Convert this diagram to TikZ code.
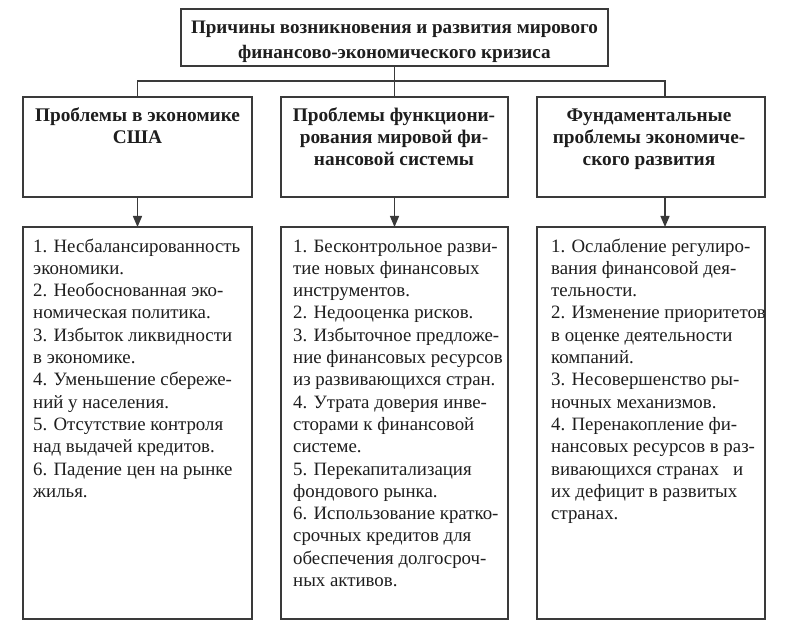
\documentclass[tikz,border=0pt]{standalone}
\usepackage{fontspec}
\setmainfont{Liberation Serif}
\usetikzlibrary{arrows.meta}
\definecolor{lc}{HTML}{3A3A3A}
\definecolor{tc}{HTML}{1E1E1E}
\begin{document}
\begin{tikzpicture}[x=1pt,y=-1pt,
  box/.style={draw=lc,line width=1.3pt,inner sep=0pt,outer sep=0pt},
  conn/.style={draw=lc,line width=1.3pt},
  arr/.style={conn,-{Triangle[length=11pt,width=9pt]}},
  titletext/.style={inner sep=0pt,anchor=north,align=center,text=tc,font=\fontsize{19.1}{25}\selectfont\bfseries},
  headtext/.style={inner sep=0pt,anchor=north,align=center,text=tc,font=\fontsize{19.3}{22.3}\selectfont\bfseries},
  listtext/.style={inner sep=0pt,anchor=north west,align=left,text=tc,font=\fontsize{18.85}{22.3}\selectfont}]
\useasboundingbox (0,0) rectangle (792,628);
\fill[white] (0,0) rectangle (792,628);
% boxes
\node[box,minimum width=427,minimum height=57] (top) at (394.5,37.5) {};
\node[box,minimum width=229,minimum height=100] (h1) at (137.5,147) {};
\node[box,minimum width=227,minimum height=100] (h2) at (394.5,147) {};
\node[box,minimum width=228,minimum height=100] (h3) at (651,147) {};
\node[box,minimum width=229,minimum height=392] (l1) at (137.5,423) {};
\node[box,minimum width=227,minimum height=392] (l2) at (394.5,423) {};
\node[box,minimum width=228,minimum height=392] (l3) at (651,423) {};
% texts
\node[titletext] (ttl) at (394.5,15.8) {\strut Причины возникновения и развития мирового\\финансово-экономического кризиса};
\node[headtext] (ht1) at (137.5,105.4) {\strut Проблемы в экономике\\США};
\node[headtext] (ht2) at (394,105.4) {\strut Проблемы функциони-\\рования мировой фи-\\нансовой системы};
\node[headtext] (ht3) at (649,105.4) {\strut Фундаментальные\\проблемы экономиче-\\ского развития};
\node[listtext] (lt1) at (33,236.2) {\strut 1. Несбалансированность\\экономики.\\2. Необоснованная эко-\\номическая политика.\\3. Избыток ликвидности\\в экономике.\\4. Уменьшение сбереже-\\ний у населения.\\5. Отсутствие контроля\\над выдачей кредитов.\\6. Падение цен на рынке\\жилья.};
\node[listtext] (lt2) at (293,236.2) {\strut 1. Бесконтрольное разви-\\тие новых финансовых\\инструментов.\\2. Недооценка рисков.\\3. Избыточное предложе-\\ние финансовых ресурсов\\из развивающихся стран.\\4. Утрата доверия инве-\\сторами к финансовой\\системе.\\5. Перекапитализация\\фондового рынка.\\6. Использование кратко-\\срочных кредитов для\\обеспечения долгосроч-\\ных активов.};
\node[listtext] (lt3) at (551,236.2) {\strut 1. Ослабление регулиро-\\вания финансовой дея-\\тельности.\\2. Изменение приоритетов\\в оценке деятельности\\компаний.\\3. Несовершенство ры-\\ночных механизмов.\\4. Перенакопление фи-\\нансовых ресурсов в раз-\\вивающихся странах~~~и\\их дефицит в развитых\\странах.};
% connectors
\coordinate (bus) at (394.5,81);
\coordinate (c3) at (665,0);
\draw[conn] (top.south) -- (h2.north);
\draw[conn] (h1.north) -- (h1.north |- bus) -- (c3 |- bus) -- (h3.north -| c3);
\draw[arr] (h1.south) -- (l1.north);
\draw[arr] (h2.south) -- (l2.north);
\draw[arr] (h3.south -| c3) -- (l3.north -| c3);
\end{tikzpicture}
\end{document}
